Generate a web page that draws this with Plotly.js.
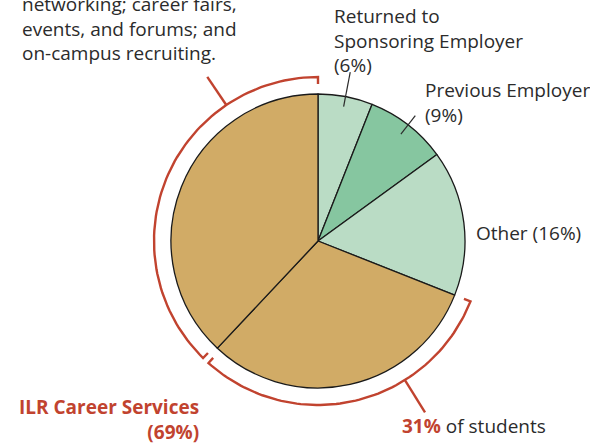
<!DOCTYPE html>
<html>
<head>
<meta charset="utf-8">
<script src="https://cdn.plot.ly/plotly-3.0.1.min.js"></script>
<style>
    body { margin: 0; background: #fff; }
    #chart { width: 590px; height: 445px; }
</style>
</head>
<body>
<div id="chart"></div>
<script>
// Slices, clockwise from 12 o'clock
const sliceNames = ['Returned to Sponsoring Employer', 'Previous Employer', 'Other',
    'ILR Career Services (31%)', 'ILR Career Services (38%)'];
const sliceValues = [6, 9, 16, 31, 38];
const sliceColors = ['#badcc5', '#86c6a0', '#badcc5', '#d1ab66', '#d1ab66'];

// Text labels
const labelSponsor = 'Returned to<br>Sponsoring Employer<br>(6%)';
const labelPrevious = 'Previous Employer<br>(9%)';
const labelOther = 'Other (16%)';
const labelIlr = '<b>ILR Career Services<br>(69%)</b>';
const labelStudents = '<b><span style="color:#c1432f">31%</span></b> of students';
const noteText = 'networking; career fairs,<br>events, and forums; and<br>on-campus recruiting.';

const W = 590, H = 445;
const cx = 318, cy = 241, R = 147;   // pie centre and radius, in pixels
const red = '#c1432f';
const ink = '#2b2b2b';

// cumulative angle (degrees clockwise from top) of each slice boundary
const total = sliceValues.reduce((a, b) => a + b, 0);
let bounds = [0];
sliceValues.forEach(v => bounds.push(bounds[bounds.length - 1] + v / total * 360));

function pt(theta, r) {
    let a = theta * Math.PI / 180;
    return [cx + r * Math.sin(a), cy - r * Math.cos(a)];
}

// bracket: inward tick, arc, inward tick
function bracket(a0, a1, r, tick) {
    let xs = [], ys = [];
    let p = pt(a0, r - tick); xs.push(p[0]); ys.push(p[1]);
    let n = 80;
    for (let i = 0; i <= n; i++) {
        p = pt(a0 + (a1 - a0) * i / n, r);
        xs.push(p[0]); ys.push(p[1]);
    }
    p = pt(a1, r - tick); xs.push(p[0]); ys.push(p[1]);
    return {
        x: xs, y: ys, type: 'scatter', mode: 'lines',
        line: { color: red, width: 2.4 }, hoverinfo: 'skip', showlegend: false
    };
}

function radial(theta, r0, r1, color, width) {
    let p0 = pt(theta, r0), p1 = pt(theta, r1);
    return {
        type: 'line', xref: 'x', yref: 'y', layer: 'above',
        x0: p0[0], y0: p0[1], x1: p1[0], y1: p1[1],
        line: { color: color, width: width }
    };
}

const rb = 164;
const gap = 1.3;
var leftBracket = bracket(bounds[4] + gap, 360, rb, 7);
var rightBracket = bracket(bounds[4] - gap, bounds[3], rb, 7);

var pie = {
    type: 'pie',
    values: sliceValues,
    labels: sliceNames,
    sort: false,
    direction: 'clockwise',
    rotation: 0,
    textinfo: 'none',
    hoverinfo: 'skip',
    marker: { colors: sliceColors, line: { color: '#1a1a1a', width: 1.3 } },
    domain: {
        x: [(cx - R) / W, (cx + R) / W],
        y: [(H - cy - R) / H, (H - cy + R) / H]
    },
    showlegend: false
};

var shapes = [
    radial((bounds[0] + bounds[1]) / 2, 0.93 * R, 1.17 * R, ink, 1.2),
    radial((bounds[1] + bounds[2]) / 2, 0.92 * R, 1.08 * R, ink, 1.2),
    radial(326, rb, rb + 34, red, 2.4),
    radial(148, rb, rb + 38, red, 2.4)
];

const font = { family: 'Open Sans, Noto Sans, sans-serif', size: 19, color: ink };

var annotations = [
    { x: 332, y: 1, text: labelSponsor, xanchor: 'left', yanchor: 'top', align: 'left' },
    { x: 423, y: 75, text: labelPrevious, xanchor: 'left', yanchor: 'top', align: 'left' },
    { x: 474, y: 233, text: labelOther, xanchor: 'left', yanchor: 'middle', align: 'left' },
    { x: 20, y: 68, text: noteText, xanchor: 'left', yanchor: 'bottom', align: 'left' },
    { x: 201, y: 392, text: labelIlr, xanchor: 'right', yanchor: 'top', align: 'right',
        font: Object.assign({}, font, { color: red }) },
    { x: 400, y: 426, text: labelStudents, xanchor: 'left', yanchor: 'middle', align: 'left' }
].map(a => Object.assign({ xref: 'x', yref: 'y', showarrow: false, font: font }, a));

var layout = {
    width: W,
    height: H,
    margin: { l: 0, r: 0, t: 0, b: 0 },
    paper_bgcolor: '#ffffff',
    plot_bgcolor: 'rgba(0,0,0,0)',
    xaxis: { range: [0, W], visible: false, fixedrange: true },
    yaxis: { range: [H, 0], visible: false, fixedrange: true },
    shapes: shapes,
    annotations: annotations,
    showlegend: false
};

Plotly.newPlot('chart', [leftBracket, rightBracket, pie], layout, { displayModeBar: false, staticPlot: true });
</script>
</body>
</html>
